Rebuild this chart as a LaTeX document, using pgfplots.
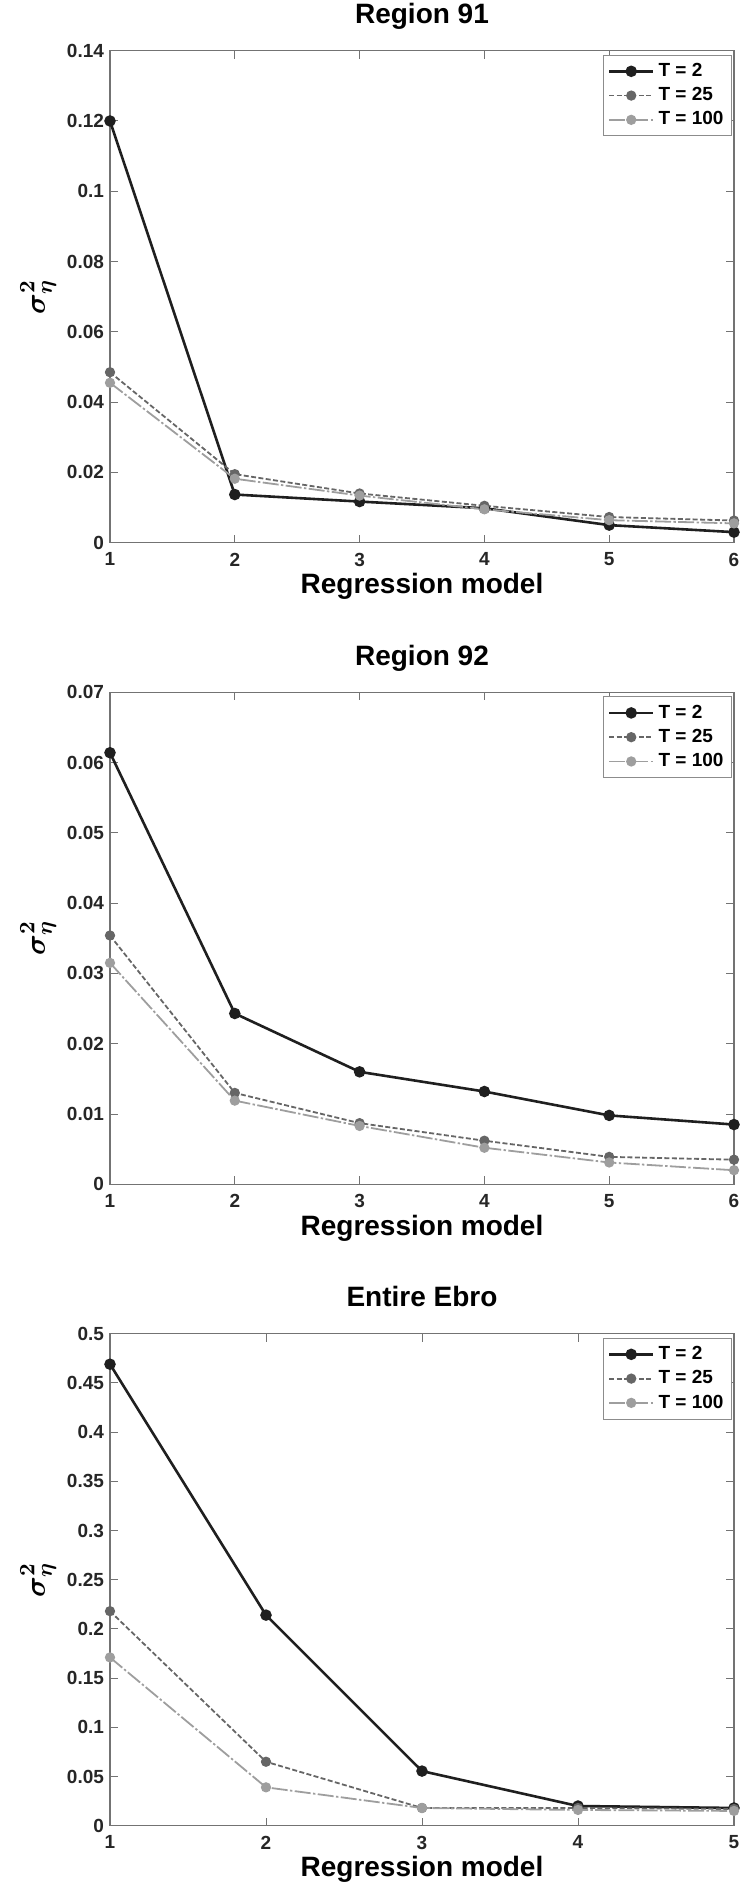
\documentclass[border=0pt]{standalone}
\usepackage{fontspec}
\setmainfont{Liberation Sans}
\usepackage{bm}
\usepackage{pgfplots}
\pgfplotsset{compat=1.18}

\definecolor{cA}{gray}{0.12}
\definecolor{cB}{gray}{0.40}
\definecolor{cC}{gray}{0.62}

\pgfplotsset{
  ebro/.style={
    width=312pt, height=246pt, scale only axis,
    anchor=south west,
    clip=false,
    axis line style={black!55, line width=0.6pt},
    tick style={black!55, line width=0.5pt},
    major tick length=4pt,
    tick align=inside,
    ymin=0,
    scaled y ticks=false,
    /pgf/number format/assume math mode=true,
    /pgf/number format/fixed,
    /pgf/number format/precision=3,
    ticklabel style={font=\fontsize{9.5}{11}\selectfont\bfseries, text=black!85},
    xticklabel style={yshift=-1.5pt},
    yticklabel style={xshift=0.5pt},
    title style={font=\fontsize{14}{16}\selectfont\bfseries,
      at={(axis description cs:0.5,1.030)}, anchor=base},
    xlabel style={font=\fontsize{14}{16}\selectfont\bfseries,
      at={(axis description cs:0.5,-0.1037)}, anchor=base},
    ylabel style={font=\fontsize{15}{17}\selectfont,
      at={(axis description cs:-0.115,0.5)}, anchor=center},
    xlabel={Regression model},
    ylabel={$\bm{\sigma}^{\bm{2}}_{\bm{\eta}}$},
    legend style={at={(axis description cs:1,1)}, anchor=north east,
      xshift=-1pt, yshift=-2pt, draw=black!45, line width=0.5pt,
      font=\fontsize{9.5}{11}\selectfont\bfseries, inner sep=2pt,
      cells={anchor=west}},
    legend image code/.code={\draw[mark repeat=2,mark phase=2]
      plot coordinates {(0pt,0pt) (11pt,0pt) (22pt,0pt)};},
  },
  s2/.style={color=cA, line width=1.3pt, mark=*, mark size=2.2pt,
    mark options={solid, fill=cA}},
  s25/.style={color=cB, line width=0.9pt, dash pattern=on 2.5pt off 1.2pt,
    mark=*, mark size=2.1pt, mark options={solid, fill=cB}},
  s100/.style={color=cC, line width=0.9pt,
    dash pattern=on 8pt off 1.2pt on 1.2pt off 1.2pt,
    mark=*, mark size=2.1pt, mark options={solid, fill=cC}},
}

\begin{document}
\begin{tikzpicture}
\useasboundingbox (0,0) rectangle (371pt,942.5pt);

% Region 91
\begin{axis}[ebro, at={(55pt,671.15pt)},
  title={Region 91},
  xmin=1, xmax=6, xtick={1,2,3,4,5,6},
  ymax=0.14, ytick={0,0.02,0.04,0.06,0.08,0.1,0.12,0.14}]
  \addplot[s2] coordinates {(1,0.120) (2,0.0137) (3,0.0117) (4,0.0098) (5,0.0050) (6,0.0030)};
  \addplot[s25] coordinates {(1,0.0485) (2,0.0195) (3,0.0140) (4,0.0105) (5,0.0073) (6,0.0063)};
  \addplot[s100] coordinates {(1,0.0455) (2,0.0182) (3,0.0134) (4,0.0095) (5,0.0064) (6,0.0055)};
  \legend{T = 2, T = 25, T = 100}
\end{axis}

% Region 92
\begin{axis}[ebro, at={(55pt,350.35pt)},
  title={Region 92},
  xmin=1, xmax=6, xtick={1,2,3,4,5,6},
  ymax=0.07, ytick={0,0.01,0.02,0.03,0.04,0.05,0.06,0.07}]
  \addplot[s2] coordinates {(1,0.0614) (2,0.0243) (3,0.0160) (4,0.0132) (5,0.0098) (6,0.0085)};
  \addplot[s25] coordinates {(1,0.0354) (2,0.0130) (3,0.0087) (4,0.0062) (5,0.0039) (6,0.0035)};
  \addplot[s100] coordinates {(1,0.0315) (2,0.0119) (3,0.0083) (4,0.0052) (5,0.0031) (6,0.0020)};
  \legend{T = 2, T = 25, T = 100}
\end{axis}

% Entire Ebro
\begin{axis}[ebro, at={(55pt,29.65pt)},
  title={Entire Ebro},
  xmin=1, xmax=5, xtick={1,2,3,4,5},
  ymax=0.5, ytick={0,0.05,0.1,0.15,0.2,0.25,0.3,0.35,0.4,0.45,0.5}]
  \addplot[s2] coordinates {(1,0.469) (2,0.214) (3,0.0555) (4,0.020) (5,0.018)};
  \addplot[s25] coordinates {(1,0.218) (2,0.065) (3,0.018) (4,0.018) (5,0.017)};
  \addplot[s100] coordinates {(1,0.171) (2,0.039) (3,0.018) (4,0.016) (5,0.015)};
  \legend{T = 2, T = 25, T = 100}
\end{axis}
\end{tikzpicture}
\end{document}
